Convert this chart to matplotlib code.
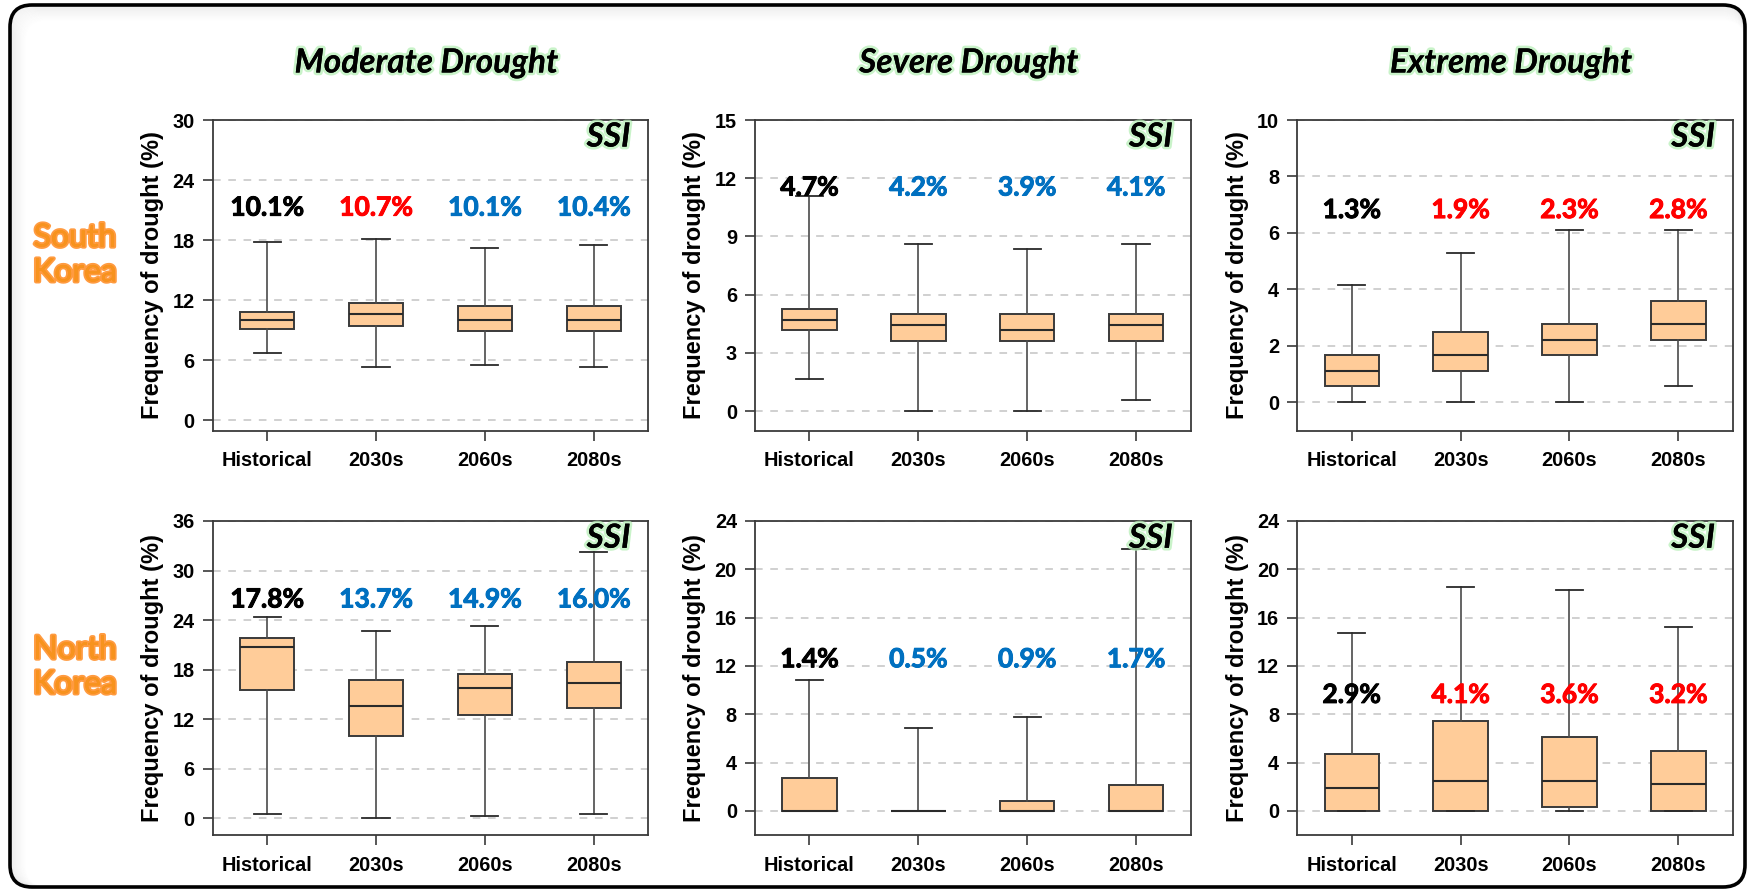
import matplotlib
matplotlib.use("Agg")
import matplotlib.pyplot as plt
import matplotlib.patheffects as pe
from matplotlib.patches import FancyBboxPatch

# ---- data -------------------------------------------------------------
periods = ["Historical", "2030s", "2060s", "2080s"]
severities = ["Moderate Drought", "Severe Drought", "Extreme Drought"]
regions = ["South\nKorea", "North\nKorea"]

# box statistics per period: (whisker low, Q1, median, Q3, whisker high)
sk_moderate = [(6.7, 9.1, 10.0, 10.8, 17.8), (5.3, 9.4, 10.6, 11.7, 18.1),
               (5.5, 8.9, 10.0, 11.4, 17.2), (5.3, 8.9, 10.0, 11.4, 17.5)]
sk_severe = [(1.67, 4.16, 4.71, 5.28, 11.1), (0.0, 3.61, 4.46, 5.02, 8.6),
             (0.0, 3.61, 4.16, 5.02, 8.33), (0.55, 3.61, 4.46, 5.02, 8.6)]
sk_extreme = [(0.0, 0.56, 1.1, 1.67, 4.17), (0.0, 1.1, 1.67, 2.49, 5.28),
              (0.0, 1.67, 2.21, 2.77, 6.12), (0.56, 2.21, 2.78, 3.6, 6.12)]
nk_moderate = [(0.56, 15.6, 20.8, 21.9, 24.4), (0.0, 10.0, 13.6, 16.7, 22.7),
               (0.28, 12.5, 15.8, 17.5, 23.3), (0.56, 13.4, 16.4, 18.9, 32.2)]
nk_severe = [(0.0, 0.0, 0.0, 2.74, 10.8), (0.0, 0.0, 0.0, 0.0, 6.9),
             (0.0, 0.0, 0.0, 0.8, 7.77), (0.0, 0.0, 0.0, 2.18, 21.65)]
nk_extreme = [(0.0, 0.0, 1.93, 4.68, 14.7), (0.0, 0.0, 2.48, 7.47, 18.57),
              (0.0, 0.28, 2.48, 6.09, 18.27), (0.0, 0.0, 2.2, 4.99, 15.2)]

# mean drought frequency (%) written above each box, and its trend colour
sk_moderate_pct = [10.1, 10.7, 10.1, 10.4]
sk_severe_pct = [4.7, 4.2, 3.9, 4.1]
sk_extreme_pct = [1.3, 1.9, 2.3, 2.8]
nk_moderate_pct = [17.8, 13.7, 14.9, 16.0]
nk_severe_pct = [1.4, 0.5, 0.9, 1.7]
nk_extreme_pct = [2.9, 4.1, 3.6, 3.2]

sk_moderate_trend = ["base", "up", "down", "down"]
sk_severe_trend = ["base", "down", "down", "down"]
sk_extreme_trend = ["base", "up", "up", "up"]
nk_moderate_trend = ["base", "down", "down", "down"]
nk_severe_trend = ["base", "down", "down", "down"]
nk_extreme_trend = ["base", "up", "up", "up"]

# y-axis ticks for each panel
sk_moderate_ticks = [0, 6, 12, 18, 24, 30]
sk_severe_ticks = [0, 3, 6, 9, 12, 15]
sk_extreme_ticks = [0, 2, 4, 6, 8, 10]
nk_moderate_ticks = [0, 6, 12, 18, 24, 30, 36]
nk_severe_ticks = [0, 4, 8, 12, 16, 20, 24]
nk_extreme_ticks = [0, 4, 8, 12, 16, 20, 24]

# ---- layout / style ----------------------------------------------------
W, H = 1750, 889
trend_colors = {"base": "black", "up": "#FF0000", "down": "#0070C0"}
box_fill = "#FFCC99"
edge = "#3a3a3a"

panels = [
    (sk_moderate, sk_moderate_pct, sk_moderate_trend, sk_moderate_ticks, -1, 21.25),
    (sk_severe, sk_severe_pct, sk_severe_trend, sk_severe_ticks, -1, 11.52),
    (sk_extreme, sk_extreme_pct, sk_extreme_trend, sk_extreme_ticks, -1, 6.81),
    (nk_moderate, nk_moderate_pct, nk_moderate_trend, nk_moderate_ticks, -2, 26.5),
    (nk_severe, nk_severe_pct, nk_severe_trend, nk_severe_ticks, -2, 12.55),
    (nk_extreme, nk_extreme_pct, nk_extreme_trend, nk_extreme_ticks, -2, 9.6),
]

col_left = [212.7, 755.0, 1297.3]
ax_w = 435.5
row_top = [120.0, 521.0]
row_bottom = [430.5, 835.0]

plt.rcParams["font.family"] = ["Liberation Sans", "DejaVu Sans"]
plt.rcParams["font.weight"] = "bold"

fig = plt.figure(figsize=(W / 100, H / 100), dpi=100)

# rounded frame around the whole figure
bg = fig.add_axes([0, 0, 1, 1], zorder=-10)
bg.set_xlim(0, W)
bg.set_ylim(H, 0)
bg.axis("off")
bg.add_patch(FancyBboxPatch((10, 5), 1735, 882, boxstyle="round,pad=0,rounding_size=22",
                            fc="white", ec="none"))
for i in range(1, 16):
    bg.add_patch(FancyBboxPatch((10 + i, 5 + i), 1735 - i, 882 - i,
                                boxstyle="round,pad=0,rounding_size=22",
                                fc="none", ec="#808080", lw=1.0,
                                alpha=0.10 * (1 - i / 16)))
bg.add_patch(FancyBboxPatch((10, 5), 1735, 882, boxstyle="round,pad=0,rounding_size=22",
                            fc="none", ec="black", lw=2.6))

lato = ["Lato", "DejaVu Sans"]
green_glow = [pe.withStroke(linewidth=4, foreground="#b8efb8", alpha=0.75), pe.Normal()]
orange_glow = [pe.withStroke(linewidth=3, foreground="#FF7A00", alpha=0.75), pe.Normal()]

positions = [1, 2, 3, 4]
for k, (boxes, pct, trend, ticks, ymin, label_y) in enumerate(panels):
    r, c = divmod(k, 3)
    left = col_left[c] / W
    bottom = 1 - row_bottom[r] / H
    height = (row_bottom[r] - row_top[r]) / H
    ax = fig.add_axes([left, bottom, ax_w / W, height])

    stats = [dict(whislo=b[0], q1=b[1], med=b[2], q3=b[3], whishi=b[4], label=p)
             for b, p in zip(boxes, periods)]
    ax.bxp(stats, positions=positions, widths=0.5, showfliers=False, patch_artist=True,
           boxprops=dict(facecolor=box_fill, edgecolor=edge, linewidth=1.4),
           medianprops=dict(color="#2a2a2a", linewidth=1.5),
           whiskerprops=dict(color="#4a4a4a", linewidth=1.2),
           capprops=dict(color="#2a2a2a", linewidth=1.3))

    ax.set_xlim(0.5, 4.5)
    ax.set_ylim(ymin, ticks[-1])
    ax.set_yticks(ticks)
    ax.set_xticks(positions)
    ax.set_xticklabels(periods)
    ax.yaxis.grid(True, linestyle=(0, (5, 5)), color="#c4c4c4", linewidth=1.1)
    ax.set_axisbelow(True)
    for s in ax.spines.values():
        s.set_color("#3a3a3a")
        s.set_linewidth(1.3)
    ax.tick_params(axis="both", direction="out", length=7, width=1.2, color="#3a3a3a",
                   labelsize=14.3, top=False, right=False)
    ax.tick_params(axis="y", pad=6)
    ax.tick_params(axis="x", pad=8)
    ax.set_ylabel("Frequency of drought (%)", fontsize=17, fontweight="bold", labelpad=6)

    for x, v, t in zip(positions, pct, trend):
        col = trend_colors[t]
        ax.text(x, label_y, f"{v:.1f}%", ha="center", va="center", fontsize=19,
                fontweight="bold", family=lato, color=col,
                path_effects=[pe.withStroke(linewidth=0.7, foreground=col), pe.Normal()])

    ax.text(0.909, 0.945, "SSI", transform=ax.transAxes, ha="center", va="center",
            fontsize=24, fontweight="bold", style="italic", family=lato,
            color="black", path_effects=green_glow)

    if r == 0:
        cx = (col_left[c] + ax_w / 2 - 4) / W
        fig.text(cx, 1 - 63 / H, severities[c], ha="center", va="center", fontsize=24,
                 fontweight="bold", style="italic", family=lato, color="black",
                 path_effects=green_glow)

for r, name in enumerate(regions):
    cy = [255, 667][r]
    fig.text(75 / W, 1 - cy / H, name, ha="center", va="center", fontsize=23,
             fontweight="normal", family=lato, color="#F7931E", linespacing=1.2,
             path_effects=orange_glow)

fig.savefig("out.png", dpi=100)
